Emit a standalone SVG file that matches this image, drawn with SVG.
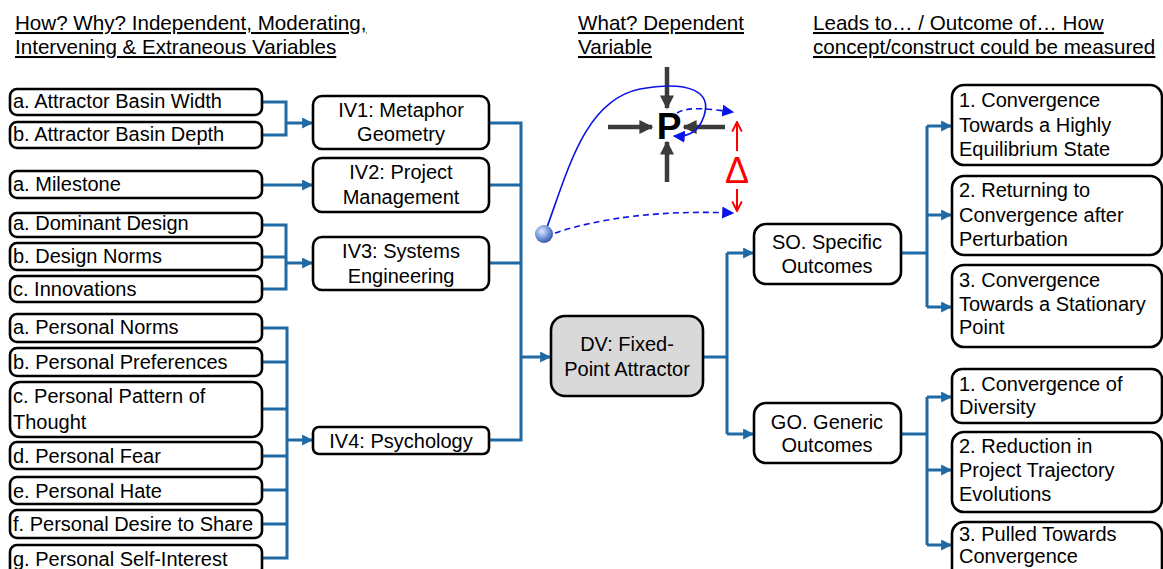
<svg xmlns="http://www.w3.org/2000/svg" width="1163" height="569" viewBox="0 0 1163 569">
  <style>
    text { font-family: "Liberation Sans", Arial, sans-serif; font-size: 20px; fill: #000; }
    .hdr { text-decoration: underline; font-size: 20.6px; }
    .mid { text-anchor: middle; }
    .box { fill: #fff; stroke: #000; stroke-width: 2.6; }
    .dv { fill: #d9d9d9; stroke: #000; stroke-width: 2.6; }
    .conn { fill: none; stroke: #1f6aa5; stroke-width: 3; }
    .arr { marker-end: url(#blueHead); }
    .force { fill: none; stroke: #3c3c3c; stroke-width: 4.5; marker-end: url(#grayHead); }
    .traj { fill: none; stroke: #0a14e6; stroke-width: 1.6; }
    .dash { stroke-dasharray: 6 4; }
    .delta { fill: none; stroke: #ff0000; stroke-width: 2; marker-end: url(#redHead); }
  </style>
  <defs>
    <marker id="blueHead" viewBox="0 0 10 10" refX="9" refY="5" markerWidth="11" markerHeight="11" markerUnits="userSpaceOnUse" orient="auto">
      <path d="M0,0 L10,5 L0,10 Z" fill="#1f6aa5"/>
    </marker>
    <marker id="grayHead" viewBox="0 0 10 10" refX="9" refY="5" markerWidth="14" markerHeight="14" markerUnits="userSpaceOnUse" orient="auto">
      <path d="M0,0 L10,5 L0,10 Z" fill="#3c3c3c"/>
    </marker>
    <marker id="trajHead" viewBox="0 0 10 10" refX="9" refY="5" markerWidth="12" markerHeight="12" markerUnits="userSpaceOnUse" orient="auto">
      <path d="M0,0 L10,5 L0,10 Z" fill="#0a14e6"/>
    </marker>
    <marker id="redHead" viewBox="0 0 10 10" refX="9" refY="5" markerWidth="12" markerHeight="12" markerUnits="userSpaceOnUse" orient="auto">
      <path d="M1,1 L9,5 L1,9" fill="none" stroke="#ff0000" stroke-width="1.6"/>
    </marker>
    <radialGradient id="ball" cx="0.38" cy="0.35" r="0.7">
      <stop offset="0" stop-color="#dfe9fb"/>
      <stop offset="0.5" stop-color="#7d9fe0"/>
      <stop offset="1" stop-color="#2d4f9e"/>
    </radialGradient>
  </defs>

  <!-- column headings -->
  <g id="headings">
    <text class="hdr" x="15" y="30">How? Why? Independent, Moderating,</text>
    <text class="hdr" x="15" y="54">Intervening &amp; Extraneous Variables</text>
    <text class="hdr" x="578" y="30">What? Dependent</text>
    <text class="hdr" x="578" y="54">Variable</text>
    <text class="hdr" x="813" y="30">Leads to… / Outcome of… How</text>
    <text class="hdr" x="813" y="54">concept/construct could be measured</text>
  </g>

  <!-- connectors -->
  <g id="connectors">
    <path class="conn" d="M262,102 H286 V135 H262"/>
    <path class="conn arr" d="M286,123 H312"/>
    <path class="conn arr" d="M262,185 H312"/>
    <path class="conn" d="M262,225 H286 V289 H262 M262,257 H286"/>
    <path class="conn arr" d="M286,263 H312"/>
    <path class="conn" d="M262,328 H287 V558 H262 M262,362 H287 M262,409 H287 M262,456 H287 M262,490 H287 M262,524 H287"/>
    <path class="conn arr" d="M287,440 H312"/>
    <path class="conn" d="M489,123 H521 V440 H489 M489,185 H521 M489,263 H521"/>
    <path class="conn arr" d="M521,357 H550"/>
    <path class="conn" d="M703,357 H727 M727,253 V434"/>
    <path class="conn arr" d="M727,253 H753"/>
    <path class="conn arr" d="M727,434 H753"/>
    <path class="conn" d="M901,253 H927 M927,126 V307"/>
    <path class="conn arr" d="M927,126 H951"/>
    <path class="conn arr" d="M927,215 H951"/>
    <path class="conn arr" d="M927,307 H951"/>
    <path class="conn" d="M901,434 H927 M927,397 V545"/>
    <path class="conn arr" d="M927,397 H951"/>
    <path class="conn arr" d="M927,470 H951"/>
    <path class="conn arr" d="M927,545 H951"/>
  </g>

  <!-- left column: variables -->
  <g id="iv1-a"><rect class="box" x="10" y="89" width="252" height="26" rx="7"/><text x="13" y="108">a. Attractor Basin Width</text></g>
  <g id="iv1-b"><rect class="box" x="10" y="122" width="252" height="26" rx="7"/><text x="13" y="141">b. Attractor Basin Depth</text></g>
  <g id="iv2-a"><rect class="box" x="10" y="171" width="252" height="27" rx="7"/><text x="13" y="191">a. Milestone</text></g>
  <g id="iv3-a"><rect class="box" x="10" y="213" width="252" height="24" rx="7"/><text x="13" y="230">a. Dominant Design</text></g>
  <g id="iv3-b"><rect class="box" x="10" y="243" width="252" height="27" rx="7"/><text x="13" y="263">b. Design Norms</text></g>
  <g id="iv3-c"><rect class="box" x="10" y="276" width="252" height="26" rx="7"/><text x="13" y="296">c. Innovations</text></g>
  <g id="iv4-a"><rect class="box" x="10" y="314" width="252" height="28" rx="7"/><text x="13" y="334">a. Personal Norms</text></g>
  <g id="iv4-b"><rect class="box" x="10" y="348" width="252" height="28" rx="7"/><text x="13" y="369">b. Personal Preferences</text></g>
  <g id="iv4-c"><rect class="box" x="10" y="382" width="252" height="55" rx="10"/><text x="13" y="403">c. Personal Pattern of</text><text x="13" y="429">Thought</text></g>
  <g id="iv4-d"><rect class="box" x="10" y="442" width="252" height="27" rx="7"/><text x="13" y="463">d. Personal Fear</text></g>
  <g id="iv4-e"><rect class="box" x="10" y="477" width="252" height="27" rx="7"/><text x="13" y="498">e. Personal Hate</text></g>
  <g id="iv4-f"><rect class="box" x="10" y="510" width="252" height="28" rx="7"/><text x="13" y="531">f. Personal Desire to Share</text></g>
  <g id="iv4-g"><rect class="box" x="10" y="545" width="252" height="30" rx="7"/><text x="13" y="566">g. Personal Self-Interest</text></g>

  <!-- independent variable groups -->
  <g id="iv1"><rect class="box" x="313" y="96" width="176" height="53" rx="9"/><text class="mid" x="401" y="117">IV1: Metaphor</text><text class="mid" x="401" y="141">Geometry</text></g>
  <g id="iv2"><rect class="box" x="313" y="158" width="176" height="54" rx="9"/><text class="mid" x="401" y="179">IV2: Project</text><text class="mid" x="401" y="204">Management</text></g>
  <g id="iv3"><rect class="box" x="313" y="237" width="176" height="53" rx="9"/><text class="mid" x="401" y="258">IV3: Systems</text><text class="mid" x="401" y="283">Engineering</text></g>
  <g id="iv4"><rect class="box" x="313" y="427" width="176" height="27" rx="6"/><text class="mid" x="401" y="448">IV4: Psychology</text></g>

  <!-- dependent variable -->
  <g id="dv"><rect class="dv" x="551" y="316" width="152" height="80" rx="14"/><text class="mid" x="627" y="351">DV: Fixed-</text><text class="mid" x="627" y="376">Point Attractor</text></g>

  <!-- fixed-point attractor sketch -->
  <g id="attractor">
    <path class="force" d="M667,67 V108"/>
    <path class="force" d="M667,182 V142"/>
    <path class="force" d="M608,127 H652"/>
    <path class="force" d="M725,127 H684"/>
    <text x="669" y="139" style="font-size:37px;font-weight:bold" text-anchor="middle">P</text>
    <path class="traj" d="M546,230 C568,170 585,100 640,89 C690,80 712,92 704,116 C699,131 690,137 674,136" marker-end="url(#trajHead)"/>
    <path class="traj dash" d="M677,113 C688,106 710,109 733,112" marker-end="url(#trajHead)"/>
    <path class="traj dash" d="M555,233 C600,218 660,210 733,213" marker-end="url(#trajHead)"/>
    <circle cx="544" cy="234" r="9" fill="url(#ball)"/>
    <path class="delta" d="M737,151 V122"/>
    <path class="delta" d="M737,189 V211"/>
    <text x="737" y="183" text-anchor="middle" style="font-size:36px;fill:#ff0000">Δ</text>
  </g>

  <!-- outcome groups -->
  <g id="so"><rect class="box" x="754" y="224" width="147" height="60" rx="12"/><text class="mid" x="827" y="249">SO. Specific</text><text class="mid" x="827" y="273">Outcomes</text></g>
  <g id="go"><rect class="box" x="754" y="403" width="147" height="60" rx="12"/><text class="mid" x="827" y="429">GO. Generic</text><text class="mid" x="827" y="452">Outcomes</text></g>

  <!-- measurable outcomes -->
  <g id="so-1"><rect class="box" x="952" y="85" width="210" height="80" rx="12"/><text x="959" y="107">1. Convergence</text><text x="959" y="132">Towards a Highly</text><text x="959" y="156">Equilibrium State</text></g>
  <g id="so-2"><rect class="box" x="952" y="176" width="210" height="79" rx="12"/><text x="959" y="197">2. Returning to</text><text x="959" y="222">Convergence after</text><text x="959" y="246">Perturbation</text></g>
  <g id="so-3"><rect class="box" x="952" y="265" width="210" height="82" rx="12"/><text x="959" y="287">3. Convergence</text><text x="959" y="311">Towards a Stationary</text><text x="959" y="334">Point</text></g>
  <g id="go-1"><rect class="box" x="952" y="369" width="210" height="54" rx="10"/><text x="959" y="391">1. Convergence of</text><text x="959" y="414">Diversity</text></g>
  <g id="go-2"><rect class="box" x="952" y="432" width="210" height="80" rx="12"/><text x="959" y="453">2. Reduction in</text><text x="959" y="477">Project Trajectory</text><text x="959" y="501">Evolutions</text></g>
  <g id="go-3"><rect class="box" x="952" y="522" width="210" height="60" rx="12"/><text x="959" y="541">3. Pulled Towards</text><text x="959" y="563">Convergence</text></g>
</svg>
